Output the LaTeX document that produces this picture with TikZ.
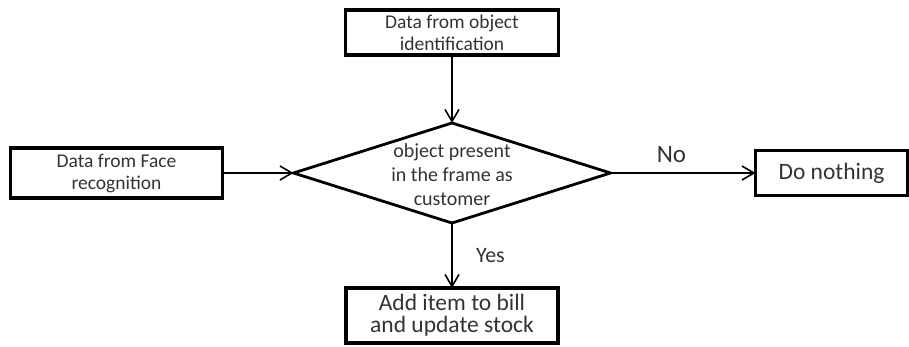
\documentclass[tikz,border=0pt]{standalone}
\usepackage{fontspec}
\setmainfont{Carlito}
\usetikzlibrary{shapes.geometric, arrows.meta, positioning}

\begin{document}
\begin{tikzpicture}[
        x=1pt, y=1pt,
        node distance=60pt,
        auto,
        block/.style={
            rectangle,
            draw,
            line width=3.5pt,
            text=black!80,
            align=center,
            inner sep=0pt,
            outer sep=0pt,
            minimum height=45pt,
            font=\fontsize{19.5}{22}\selectfont
        },
        bigblock/.style={
            block,
            font=\fontsize{23.5}{22}\selectfont
        },
        decision/.style={
            diamond,
            draw,
            line width=2.8pt,
            inner sep=0pt,
            outer sep=0pt,
            minimum width=317pt,
            minimum height=100pt
        },
        line/.style={
            draw,
            line width=1.6pt,
            -{Straight Barb[length=12pt, width=14pt]}
        },
        tag/.style={
            text=black!80,
            font=\fontsize{25}{26}\selectfont
        }
    ]
        \useasboundingbox (0,0) rectangle (909,-347);

        % Nodes
        \node [decision, label={[text=black!80, align=center, yshift=-2pt, font=\fontsize{20}{24}\selectfont]center:{object present\\in the frame as\\customer}}] (check) at (452,-173) {};
        \node [block, minimum width=213pt, above=68pt of check] (objdata) {Data from object\\identification};
        \node [block, minimum width=212pt, minimum height=50pt, left=71pt of check] (facedata) {Data from Face\\recognition};
        \node [bigblock, minimum width=152pt, right=145pt of check] (nothing) {Do nothing};
        \node [bigblock, minimum width=212pt, minimum height=55pt, below=65pt of check] (addbill) {Add item to bill\\and update stock};

        % Paths
        \path [line] (objdata) -- (check);
        \path [line] (facedata) -- (check);
        \path [line] (check) -- node [tag, pos=0.42, above=6pt] {No} (nothing);
        \path [line] (check) -- node [tag, font=\fontsize{22}{24}\selectfont, right=20pt] {Yes} (addbill);

    \end{tikzpicture}
\end{document}
